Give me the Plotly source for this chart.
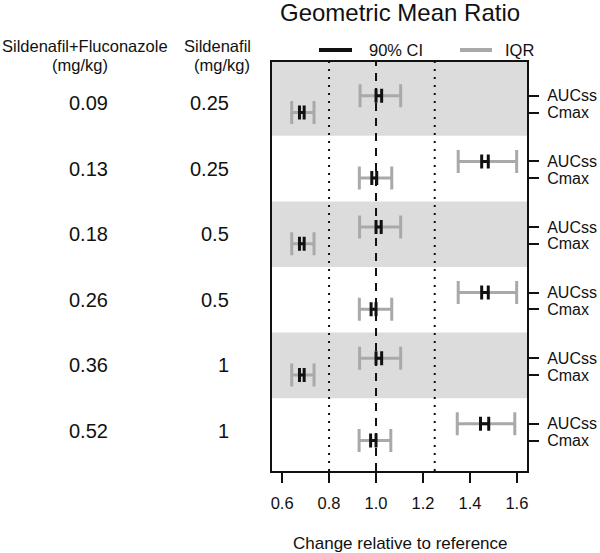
import plotly.graph_objects as go

# ---------------- data ----------------
sf_dose = ["0.09", "0.13", "0.18", "0.26", "0.36", "0.52"]   # Sildenafil+Fluconazole (mg/kg)
s_dose = ["0.25", "0.25", "0.5", "0.5", "1", "1"]            # Sildenafil (mg/kg)
param_labels = ["AUCss", "Cmax"]

auc_gmr = [1.012, 1.464, 1.011, 1.464, 1.012, 1.462]
auc_ci_lo = [1.000, 1.450, 1.000, 1.450, 1.000, 1.445]
auc_ci_hi = [1.024, 1.478, 1.022, 1.478, 1.024, 1.480]
auc_iqr_lo = [0.932, 1.350, 0.930, 1.350, 0.930, 1.346]
auc_iqr_hi = [1.105, 1.599, 1.105, 1.599, 1.105, 1.591]

cmax_gmr = [0.684, 0.992, 0.684, 0.990, 0.684, 0.988]
cmax_ci_lo = [0.674, 0.982, 0.674, 0.979, 0.674, 0.977]
cmax_ci_hi = [0.694, 1.003, 0.694, 1.000, 0.694, 1.000]
cmax_iqr_lo = [0.641, 0.929, 0.641, 0.929, 0.641, 0.928]
cmax_iqr_hi = [0.736, 1.067, 0.736, 1.067, 0.736, 1.063]

ref_lines = [0.8, 1.0, 1.25]
x_ticks = [0.6, 0.8, 1.0, 1.2, 1.4, 1.6]

# ---------------- layout constants ----------------
W, H = 600, 553
L, R, T, B = 272, 527, 62, 471
FONT = "Liberation Sans, Arial, sans-serif"
TXT = "#111111"
GRAY = "#a9a9a9"
BAND = "#dcdcdc"
AUC_OFF, CMAX_OFF = 0.39, 0.645


def px_x(x):
    return (x - L) / (R - L)


def px_y(y):
    return (B - y) / (B - T)


n = len(sf_dose)
auc_y = [k + AUC_OFF for k in range(n)]
cmax_y = [k + CMAX_OFF for k in range(n)]

fig = go.Figure()


def add_bars(xc, lo, hi, ys, color, thick, capw):
    fig.add_trace(go.Scatter(
        x=xc, y=ys, mode="markers",
        marker=dict(size=2, color="rgba(0,0,0,0)"),
        error_x=dict(type="data", symmetric=False,
                     array=[h - c for h, c in zip(hi, xc)],
                     arrayminus=[c - l for c, l in zip(xc, lo)],
                     color=color, thickness=thick, width=capw),
        showlegend=False, hoverinfo="skip"))


# IQR (gray) then CI (black)
add_bars(auc_gmr, auc_iqr_lo, auc_iqr_hi, auc_y, GRAY, 3, 11.5)
add_bars(cmax_gmr, cmax_iqr_lo, cmax_iqr_hi, cmax_y, GRAY, 3, 11.5)
add_bars(auc_gmr, auc_ci_lo, auc_ci_hi, auc_y, "#111111", 3, 7)
add_bars(cmax_gmr, cmax_ci_lo, cmax_ci_hi, cmax_y, "#111111", 3, 7)

shapes = []
y_lo, y_hi = -0.125, 6.11
for k in range(0, n, 2):
    shapes.append(dict(type="rect", xref="paper", yref="y", x0=0, x1=1,
                       y0=y_lo if k == 0 else k,
                       y1=k + 1 if k + 1 < n else y_hi,
                       fillcolor=BAND, line=dict(width=0), layer="below"))
for v in ref_lines:
    shapes.append(dict(type="line", xref="x", yref="paper", x0=v, x1=v, y0=0, y1=1,
                       line=dict(color="#111111", width=2,
                                 dash="8px,7px" if v == 1.0 else "2px,6px"),
                       layer="below"))

# legend
shapes.append(dict(type="line", xref="paper", yref="paper",
                   x0=px_x(319), x1=px_x(352), y0=px_y(50), y1=px_y(50),
                   line=dict(color="#111111", width=4)))
shapes.append(dict(type="line", xref="paper", yref="paper",
                   x0=px_x(460), x1=px_x(492), y0=px_y(50), y1=px_y(50),
                   line=dict(color=GRAY, width=4)))

ann = []


def txt(x, y, s, size, xanchor="center", yref="paper"):
    ann.append(dict(x=x, y=y, xref="paper", yref=yref, text=s, showarrow=False,
                    xanchor=xanchor, yanchor="middle",
                    font=dict(family=FONT, size=size, color=TXT)))


txt(px_x(400), px_y(12), "Geometric Mean Ratio", 24)
txt(px_x(367), px_y(50), "90% CI", 16.5, "left")
txt(px_x(503), px_y(50), "IQR", 16.5, "left")
txt(px_x(85), px_y(46), "Sildenafil+Fluconazole", 16.5)
txt(px_x(80), px_y(65), "(mg/kg)", 16.5)
txt(px_x(217), px_y(46), "Sildenafil", 16.5)
txt(px_x(221.5), px_y(65), "(mg/kg)", 16.5)
for k in range(n):
    txt(px_x(88), k + 0.5, sf_dose[k], 20, "center", "y")
    txt(px_x(231), k + 0.5, s_dose[k], 20, "right", "y")
txt(px_x(400), px_y(543), "Change relative to reference", 17)

tickvals, ticktext = [], []
for k in range(n):
    tickvals += [auc_y[k], cmax_y[k]]
    ticktext += param_labels

fig.update_layout(
    width=W, height=H,
    margin=dict(l=L, r=W - R, t=T, b=H - B, pad=0, autoexpand=False),
    paper_bgcolor="white", plot_bgcolor="white",
    font=dict(family=FONT, size=16, color=TXT),
    shapes=shapes, annotations=ann,
    xaxis=dict(range=[0.557, 1.643], tickvals=x_ticks,
               ticktext=[f"{v:.1f}" for v in x_ticks],
               ticks="outside", ticklen=10, tickwidth=1.5, tickcolor="#111111",
               ticklabelstandoff=6, automargin=False,
               showline=True, linewidth=2, linecolor="#111111", mirror=True,
               showgrid=False, zeroline=False,
               tickfont=dict(size=16.5, family=FONT, color=TXT)),
    yaxis=dict(range=[y_hi, y_lo], side="right", tickvals=tickvals, ticktext=ticktext,
               ticks="outside", ticklen=10, tickwidth=1.5, tickcolor="#111111",
               ticklabelstandoff=5, automargin=False,
               showline=True, linewidth=2, linecolor="#111111", mirror=True,
               showgrid=False, zeroline=False,
               tickfont=dict(size=16, family=FONT, color=TXT)),
)

fig.write_html("out.html", config={"displayModeBar": False},
               post_script="document.body.style.margin='0';document.body.style.padding='0';")
